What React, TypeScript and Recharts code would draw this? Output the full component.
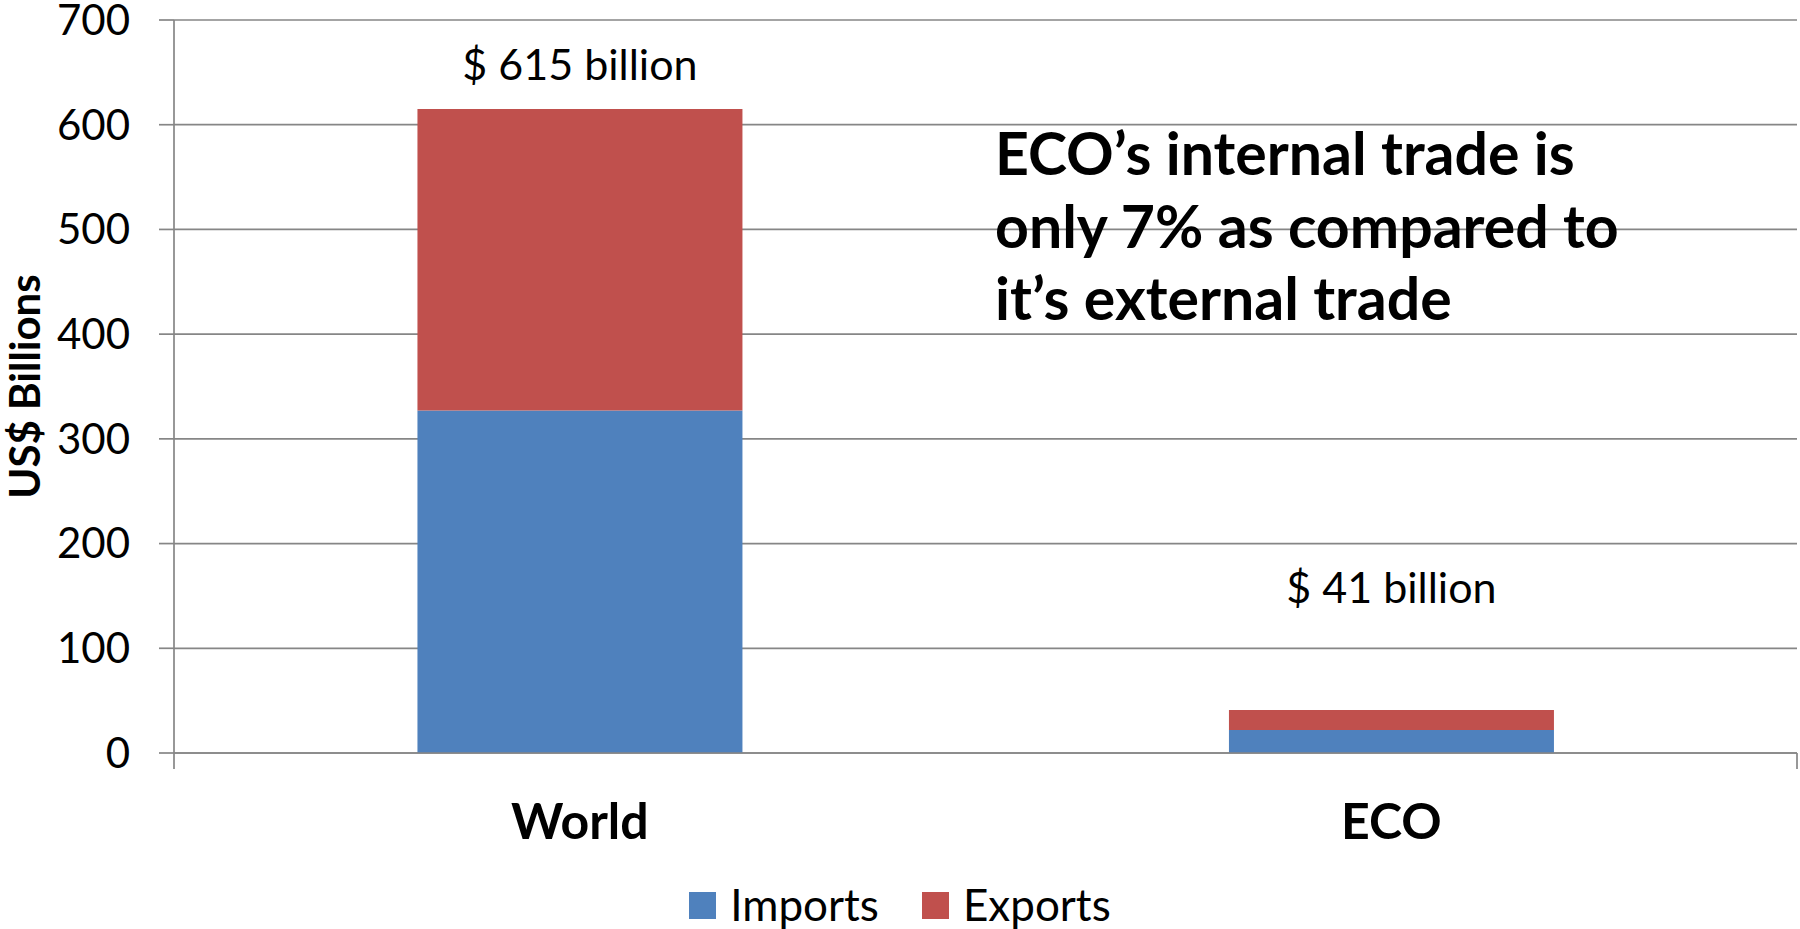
import React from 'react';
import { BarChart, Bar, XAxis, YAxis, CartesianGrid, Legend, LabelList, Customized } from 'recharts';

const categories = ['World', 'ECO'];
const seriesNames = ['Imports', 'Exports'];
const importValues = [327, 22];
const exportValues = [288, 19];
const yTicks = [0, 100, 200, 300, 400, 500, 600, 700];
const boundaryTicks = [0, 1, 2];
const noteLines = ['ECO’s internal trade is', 'only 7% as compared to', 'it’s external trade'];
const labelLift = [29, 107];

const data = categories.map((name, i) => ({
  name,
  Imports: importValues[i],
  Exports: exportValues[i],
  total: importValues[i] + exportValues[i],
}));

const FONT = 'Lato, "Open Sans", sans-serif';
const GRID = '#868686';
const BLUE = '#4F81BD';
const RED = '#C0504D';

const YLabel = (props: any) => {
  const vb = props.viewBox || { y: 20, height: 733 };
  const x = 40;
  const y = vb.y + vb.height / 2;
  return (
    <text
      x={x}
      y={y}
      transform={`rotate(-90 ${x} ${y})`}
      textAnchor="middle"
      fontFamily={FONT}
      fontWeight={700}
      fontSize={42}
      fill="#000"
    >
      US$ Billions
    </text>
  );
};

const TotalLabel = (props: any) => {
  const { x, y, width, index } = props;
  const d = data[index];
  if (!d) return null;
  return (
    <text
      x={Number(x) + Number(width) / 2}
      y={Number(y) - labelLift[index]}
      textAnchor="middle"
      fontFamily={FONT}
      fontSize={43}
      fill="#000"
    >
      {`$ ${d.total} billion`}
    </text>
  );
};

const Note = () => (
  <text fontFamily={FONT} fontWeight={700} fontSize={59} fill="#000">
    {noteLines.map((line, i) => (
      <tspan key={i} x={995} y={175 + i * 72.5}>
        {line}
      </tspan>
    ))}
  </text>
);

const LegendContent = (props: any) => {
  const payload = [...(props.payload || [])].sort(
    (a: any, b: any) => seriesNames.indexOf(a.value) - seriesNames.indexOf(b.value)
  );
  return (
    <div
      style={{
        display: 'flex',
        justifyContent: 'center',
        alignItems: 'center',
        height: 70,
        paddingTop: 19,
        boxSizing: 'border-box',
        fontFamily: FONT,
        fontSize: 44,
        lineHeight: 1,
        color: '#000',
      }}
    >
      {payload.map((p: any, i: number) => (
        <div
          key={p.value}
          style={{ display: 'flex', alignItems: 'center', marginRight: i < payload.length - 1 ? 43 : 0 }}
        >
          <span
            style={{ display: 'inline-block', width: 27, height: 27, background: p.color, marginRight: 14, marginTop: 3 }}
          />
          <span>{p.value}</span>
        </div>
      ))}
    </div>
  );
};

export default function App() {
  return (
    <div style={{ position: 'absolute', left: 0, top: 0, width: 1800, height: 929, background: '#fff' }}>
      <BarChart
        width={1800}
        height={929}
        data={data}
        margin={{ top: 20, right: 3, left: 0, bottom: 0 }}
        barCategoryGap="30%"
      >
        <CartesianGrid xAxisId="b" vertical={false} stroke={GRID} strokeWidth={1.7} />
        <XAxis
          xAxisId="a"
          type="number"
          domain={[0, 2]}
          ticks={boundaryTicks}
          interval={0}
          allowDataOverflow
          height={16}
          tickSize={16}
          tickFormatter={() => ''}
          axisLine={{ stroke: GRID, strokeWidth: 1.7 }}
          tickLine={{ stroke: GRID, strokeWidth: 1.7 }}
        />
        <XAxis
          xAxisId="b"
          dataKey="name"
          height={90}
          interval={0}
          axisLine={false}
          tickLine={false}
          tickSize={0}
          tickMargin={34}
          tick={{ fill: '#000', fontSize: 50, fontWeight: 700, fontFamily: FONT }}
        />
        <YAxis
          width={174}
          domain={[0, 700]}
          ticks={yTicks}
          interval={0}
          tickSize={15}
          tickMargin={29}
          axisLine={{ stroke: GRID, strokeWidth: 1.7 }}
          tickLine={{ stroke: GRID, strokeWidth: 1.7 }}
          tick={{ fill: '#000', fontSize: 42, fontFamily: FONT }}
          label={<YLabel />}
        />
        <Legend
          verticalAlign="bottom"
          height={70}
          wrapperStyle={{ left: 0, width: 1800 }}
          content={<LegendContent />}
        />
        <Bar xAxisId="b" dataKey="Imports" stackId="s" fill={BLUE} isAnimationActive={false} />
        <Bar xAxisId="b" dataKey="Exports" stackId="s" fill={RED} isAnimationActive={false}>
          <LabelList dataKey="total" content={<TotalLabel />} />
        </Bar>
        <Customized component={<Note />} />
      </BarChart>
    </div>
  );
}
